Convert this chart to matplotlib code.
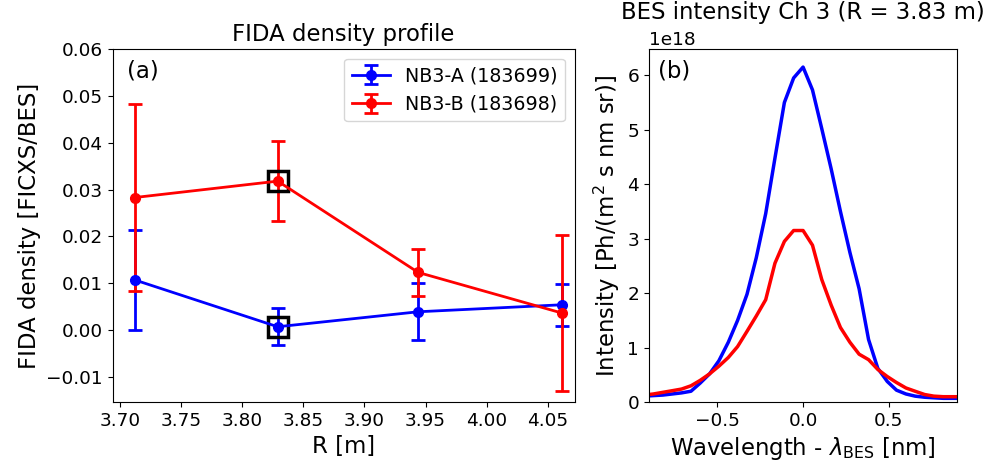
import matplotlib
matplotlib.use("Agg")
import matplotlib.pyplot as plt

# ---- data (a) ----
R = [3.712, 3.829, 3.944, 4.062]
dens_A = [0.0107, 0.0007, 0.0039, 0.0054]
err_A = [0.0107, 0.0040, 0.0061, 0.0045]
dens_B = [0.0283, 0.0318, 0.0123, 0.0036]
err_B = [0.0200, 0.0086, 0.0050, 0.0166]
label_A = "NB3-A (183699)"
label_B = "NB3-B (183698)"
sel_index = 1

# ---- data (b) ----
wl = [-0.927, -0.873, -0.818, -0.763, -0.709, -0.654, -0.600, -0.545, -0.491,
      -0.436, -0.382, -0.327, -0.273, -0.218, -0.164, -0.109, -0.055, 0.0,
      0.055, 0.109, 0.164, 0.218, 0.273, 0.327, 0.382, 0.436, 0.491, 0.545,
      0.600, 0.654, 0.709, 0.763, 0.818, 0.873, 0.927]
int_A = [0.11, 0.12, 0.13, 0.15, 0.17, 0.20, 0.35, 0.52, 0.76, 1.10, 1.50, 1.98,
         2.65, 3.46, 4.48, 5.50, 5.95, 6.15, 5.73, 5.02, 4.28, 3.50, 2.75, 2.08,
         1.15, 0.62, 0.38, 0.22, 0.15, 0.11, 0.09, 0.08, 0.07, 0.07, 0.07]
int_B = [0.13, 0.15, 0.18, 0.21, 0.24, 0.30, 0.40, 0.52, 0.66, 0.82, 1.02, 1.30,
         1.58, 1.88, 2.55, 2.95, 3.15, 3.15, 2.88, 2.25, 1.78, 1.37, 1.10, 0.88,
         0.78, 0.60, 0.47, 0.36, 0.26, 0.20, 0.14, 0.11, 0.10, 0.10, 0.10]
scale = 1e18

fig = plt.figure(figsize=(9.89, 4.72), dpi=100)
ax1 = fig.add_axes([0.114, 0.148, 0.467, 0.748])
ax2 = fig.add_axes([0.656, 0.148, 0.312, 0.748])

fs_tick = 13.3
fs_lab = 16.4
fs_leg = 13.7

ax1.errorbar(R, dens_A, yerr=err_A, color='blue', marker='o', ms=7, lw=2,
             elinewidth=2, capsize=5, capthick=2, label=label_A)
ax1.errorbar(R, dens_B, yerr=err_B, color='red', marker='o', ms=7, lw=2,
             elinewidth=2, capsize=5, capthick=2, label=label_B)
ax1.plot([R[sel_index]], [dens_A[sel_index]], marker='s', ms=14, mfc='none',
         mec='black', mew=2.5, ls='none')
ax1.plot([R[sel_index]], [dens_B[sel_index]], marker='s', ms=14, mfc='none',
         mec='black', mew=2.5, ls='none')
ax1.set_xlim(3.694, 4.072)
ax1.set_ylim(-0.0154, 0.06)
ax1.set_xticks([3.70, 3.75, 3.80, 3.85, 3.90, 3.95, 4.00, 4.05])
ax1.set_yticks([-0.01, 0.0, 0.01, 0.02, 0.03, 0.04, 0.05, 0.06])
ax1.tick_params(labelsize=fs_tick)
ax1.set_xlabel("R [m]", fontsize=fs_lab)
ax1.set_ylabel("FIDA density [FICXS/BES]", fontsize=fs_lab)
ax1.set_title("FIDA density profile", fontsize=fs_lab)
ax1.text(0.03, 0.97, "(a)", transform=ax1.transAxes, fontsize=fs_lab, va='top', ha='left')
ax1.legend(loc='upper right', fontsize=fs_leg)

ax2.plot(wl, [v * scale for v in int_A], color='blue', lw=2.5)
ax2.plot(wl, [v * scale for v in int_B], color='red', lw=2.5)
ax2.set_xlim(-0.9, 0.9)
ax2.set_ylim(0, 6.48e18)
ax2.set_xticks([-0.5, 0.0, 0.5])
ax2.tick_params(labelsize=fs_tick)
ax2.yaxis.get_offset_text().set_fontsize(fs_tick)
ax2.set_xlabel(r"Wavelength - $\lambda_{\rm BES}$ [nm]", fontsize=fs_lab)
ax2.set_ylabel(r"Intensity [Ph/(m$^2$ s nm sr)]", fontsize=fs_lab)
ax2.set_title("BES intensity Ch 3 (R = 3.83 m)", fontsize=fs_lab, pad=22)
ax2.text(0.03, 0.97, "(b)", transform=ax2.transAxes, fontsize=fs_lab, va='top', ha='left')

fig.savefig("out.png", dpi=100)
